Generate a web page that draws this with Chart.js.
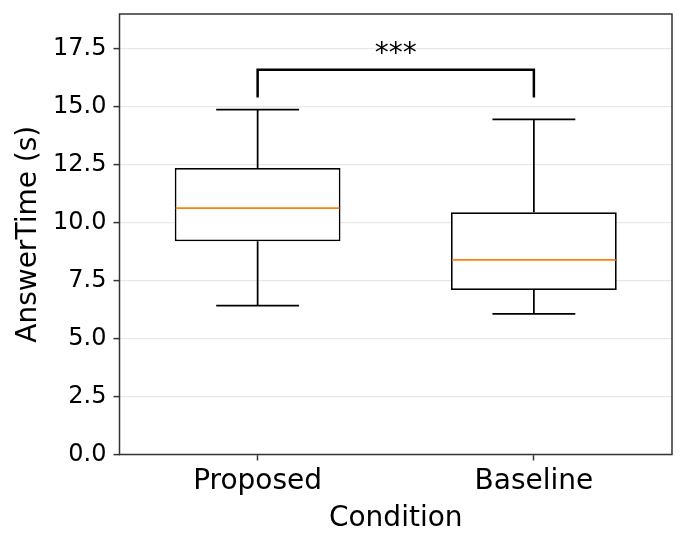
<!DOCTYPE html>
<html>
<head>
<meta charset="utf-8">
<script src="https://cdn.jsdelivr.net/npm/chart.js@4.4.0/dist/chart.umd.min.js"></script>
<style>
  html, body { margin: 0; padding: 0; background: #fff; }
  #wrap { width: 685px; height: 546px; }
</style>
</head>
<body>
<div id="wrap"><canvas id="myChart"></canvas></div>
<script>
// Dados do boxplot
const categories = ['Proposed', 'Baseline'];
const whiskerLow = [6.42, 6.07];
const q1 = [9.20, 7.10];
const median = [10.63, 8.40];
const q3 = [12.36, 10.45];
const whiskerHigh = [14.88, 14.45];
const yTicks = [0, 2.5, 5, 7.5, 10, 12.5, 15, 17.5];

// Marca de significancia entre os dois grupos
const bracketTop = 16.6;
const bracketLeg = 15.4;
const bracketLabel = '***';

const FONT = "'DejaVu Sans', sans-serif";

function line(ctx, x1, y1, x2, y2) {
    ctx.beginPath();
    ctx.moveTo(x1, y1);
    ctx.lineTo(x2, y2);
    ctx.stroke();
}

// Desenha bigodes, tampas e medianas por cima das caixas
const boxParts = {
    id: 'boxParts',
    afterDatasetsDraw(chart) {
        const ctx = chart.ctx;
        const xs = chart.scales.x, ys = chart.scales.y;
        const bars = chart.getDatasetMeta(0).data;
        ctx.save();
        ctx.lineWidth = 1.75;
        categories.forEach((c, i) => {
            const cx = xs.getPixelForValue(i);
            const half = bars[i].width / 2;
            const cap = half / 2;
            ctx.strokeStyle = '#000';
            line(ctx, cx, ys.getPixelForValue(q3[i]), cx, ys.getPixelForValue(whiskerHigh[i]));
            line(ctx, cx, ys.getPixelForValue(q1[i]), cx, ys.getPixelForValue(whiskerLow[i]));
            line(ctx, cx - cap, ys.getPixelForValue(whiskerHigh[i]), cx + cap, ys.getPixelForValue(whiskerHigh[i]));
            line(ctx, cx - cap, ys.getPixelForValue(whiskerLow[i]), cx + cap, ys.getPixelForValue(whiskerLow[i]));
            ctx.strokeStyle = '#ff7f0e';
            line(ctx, cx - half + 1, ys.getPixelForValue(median[i]), cx + half - 1, ys.getPixelForValue(median[i]));
        });

        // colchete de significancia
        const xa = xs.getPixelForValue(0), xb = xs.getPixelForValue(1);
        const yt = ys.getPixelForValue(bracketTop), yl = ys.getPixelForValue(bracketLeg);
        ctx.strokeStyle = '#000';
        ctx.lineWidth = 2.5;
        ctx.beginPath();
        ctx.moveTo(xa, yl);
        ctx.lineTo(xa, yt);
        ctx.lineTo(xb, yt);
        ctx.lineTo(xb, yl);
        ctx.stroke();
        ctx.fillStyle = '#000';
        ctx.font = '28px ' + FONT;
        ctx.textAlign = 'center';
        ctx.textBaseline = 'alphabetic';
        ctx.fillText(bracketLabel, (xa + xb) / 2, yt - 8);
        ctx.restore();
    },
    afterDraw(chart) {
        // moldura completa do grafico
        const a = chart.chartArea, ctx = chart.ctx;
        ctx.save();
        ctx.strokeStyle = '#333';
        ctx.lineWidth = 1.5;
        ctx.strokeRect(a.left, a.top, a.right - a.left, a.bottom - a.top);
        ctx.restore();
    }
};

var ctx = document.getElementById('myChart').getContext('2d');
var myChart = new Chart(ctx, {
    type: 'bar',
    data: {
        labels: categories,
        datasets: [{
            data: categories.map((c, i) => [q1[i], q3[i]]),
            backgroundColor: '#fff',
            borderColor: '#000',
            borderWidth: 1.75,
            borderSkipped: false,
            barPercentage: 0.6,
            categoryPercentage: 1.0
        }]
    },
    options: {
        responsive: true,
        maintainAspectRatio: false,
        animation: false,
        layout: { padding: { top: 14, right: 13, left: 0, bottom: 0 } },
        plugins: {
            legend: { display: false },
            tooltip: { enabled: false }
        },
        scales: {
            x: {
                afterFit: s => { s.height = 91.5; s.paddingLeft = 0; s.paddingRight = 0; },
                grid: { offset: false, drawOnChartArea: false, tickColor: '#333', tickLength: 6, tickWidth: 1.5 },
                border: { display: false },
                ticks: { color: '#000', padding: 4, font: { family: FONT, size: 28 } },
                title: { display: true, text: 'Condition', color: '#000', padding: { top: 0, bottom: 10 }, font: { family: FONT, size: 28 } }
            },
            y: {
                min: 0,
                max: 19,
                afterFit: s => { s.width = 119.5; s.paddingTop = 0; s.paddingBottom = 0; },
                afterBuildTicks: s => { s.ticks = yTicks.map(v => ({ value: v })); },
                grid: { color: '#e8e8e8', lineWidth: 1.2, tickColor: '#333', tickLength: 6, tickWidth: 1.5 },
                border: { display: false },
                ticks: { color: '#000', padding: 7, font: { family: FONT, size: 24 }, callback: v => v.toFixed(1) },
                title: { display: true, text: 'AnswerTime (s)', color: '#000', padding: { top: 12, bottom: 0 }, font: { family: FONT, size: 28 } }
            }
        }
    },
    plugins: [boxParts]
});
</script>
</body>
</html>
